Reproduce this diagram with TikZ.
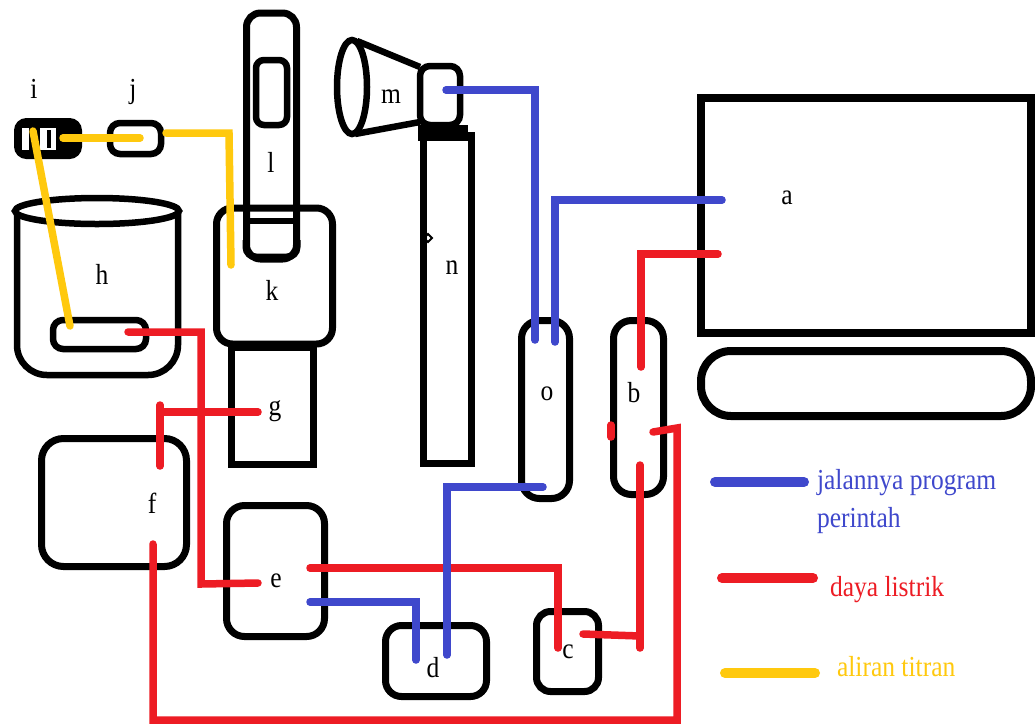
\documentclass[tikz,border=0pt]{standalone}
\usepackage{fontspec}
\setmainfont{Liberation Serif}[FakeStretch=0.88]
\definecolor{progblue}{RGB}{63,72,204}
\definecolor{powerred}{RGB}{237,28,36}
\definecolor{flowgold}{RGB}{255,201,14}
\begin{document}
\begin{tikzpicture}[x=1pt,y=-1pt,
  every node/.style={inner sep=0pt,outer sep=0pt},
  lbl/.style={font=\fontsize{29pt}{36pt}\selectfont,anchor=base},
  part/.style={draw=black,line width=6.5pt,rectangle,fill=none},
  prog/.style={draw=progblue,line width=7.5pt,line cap=round},
  power/.style={draw=powerred,line width=7.5pt,line cap=round},
  flow/.style={draw=flowgold,line width=7.5pt,line cap=round},
  legendline/.style={line width=10pt,line cap=round}]
\useasboundingbox (0,0) rectangle (1035,724);
\fill[white] (0,0) rectangle (1035,724);

% ---- computer: monitor and keyboard ----
\node[part,line width=8pt,minimum width=330pt,minimum height=235pt] (mon) at (866,215.5) {};
\draw[line width=8pt,rounded corners=30pt] (701,351) rectangle (1031,416);
\node[lbl] (la) at (787,204) {a};

% ---- beaker h with stirrer ----
\draw[line width=6.5pt,rounded corners=30pt] (17,213) -- (17,375) -- (178,375) -- (178,213);
\draw[line width=6.5pt,fill=white] (97,211) ellipse [x radius=82pt,y radius=13pt];
\node[part,rounded corners=10pt,minimum width=93pt,minimum height=29pt] (stir) at (99.5,334.5) {};
\node[lbl] (lh) at (102,284) {h};

% ---- pump i and valve j ----
\node[draw=black,fill=black,line width=5pt,rounded corners=10pt,minimum width=63pt,minimum height=36pt] (pump) at (48,138.5) {};
\fill[white] (22,128) rectangle (56,150);
\fill[black] (29,128) rectangle (40,150);
\fill[black] (47,130) rectangle (51,148);
\node[part,rounded corners=10pt,minimum width=51pt,minimum height=31pt] (valve) at (135.5,138.5) {};
\node[lbl] (li) at (34,98) {i};
\node[lbl] (lj) at (133,98) {j};

% ---- electrode l in vessel k, stand g ----
\node[part,fill=white,line width=7pt,rounded corners=14pt,minimum width=50pt,minimum height=246pt] (elec) at (271.5,136) {};
\node[part,rounded corners=8pt,minimum width=31pt,minimum height=65pt] (win) at (271.5,92.5) {};
\node[part,line width=7pt,rounded corners=16pt,minimum width=116pt,minimum height=136pt] (vessel) at (274.5,276) {};
\draw[line width=6pt] (243,221) -- (300,221);
\draw[line width=7pt,rounded corners=10pt] (246,240) -- (246,257) -- (297,257) -- (297,240);
\node[part,line width=7pt,minimum width=82pt,minimum height=119pt] (stand) at (272.5,405) {};
\draw[line width=9pt] (229,346) -- (316,346);
\node[lbl] (ll) at (271,172) {l};
\node[lbl] (lk) at (272,300) {k};
\node[lbl] (lg) at (275,415) {g};

% ---- sensor m on column n ----
\draw[line width=6.5pt] (352,87) ellipse [x radius=15pt,y radius=47pt];
\draw[line width=6.5pt] (357,41) -- (420,67);
\draw[line width=6.5pt] (355,134) -- (420,122);
\node[part,rounded corners=10pt,minimum width=40pt,minimum height=59pt] (sens) at (440,95.5) {};
\node[part,line width=7pt,minimum width=48pt,minimum height=328pt] (col) at (447.5,299.5) {};
\fill[black] (418,125) rectangle (468,141);
\draw[line width=2pt] (424,238) -- (428,234) -- (432,238) -- (428,242) -- cycle;
\node[lbl] (lm) at (391,103) {m};
\node[lbl] (ln) at (452,274) {n};

% ---- control units ----
\node[part,line width=7pt,rounded corners=18pt,minimum width=48pt,minimum height=178pt] (uo) at (545.5,409.5) {};
\node[part,line width=7pt,rounded corners=18pt,minimum width=50pt,minimum height=174pt] (ub) at (638.5,407.5) {};
\node[part,line width=7pt,rounded corners=14pt,minimum width=62pt,minimum height=80pt] (uc) at (567.5,651.5) {};
\node[part,line width=7pt,rounded corners=16pt,minimum width=101pt,minimum height=71pt] (ud) at (436,661) {};
\node[part,line width=7pt,rounded corners=18pt,minimum width=98pt,minimum height=131pt] (ue) at (275.5,571) {};
\node[part,line width=7pt,rounded corners=22pt,minimum width=145pt,minimum height=128pt] (uf) at (114,502.5) {};
\node[lbl] (lo) at (547,400) {o};
\node[lbl] (lb) at (634,402) {b};
\node[lbl] (lc) at (568,658) {c};
\node[lbl] (ld) at (433,677) {d};
\node[lbl] (le) at (276,587) {e};
\node[lbl] (lf) at (152,513) {f};

% ---- wire end points ----
\coordinate (yI) at (33,131);   \coordinate (yH) at (70,326);
\coordinate (yIout) at (63,138); \coordinate (yJin) at (140,138);
\coordinate (yJout) at (166,133); \coordinate (yK) at (231,265);
\coordinate (rH) at (128,332);  \coordinate (rE1) at (258,583);
\coordinate (rG) at (258,412);  \coordinate (rF1) at (160,466);
\coordinate (rF2) at (153,544); \coordinate (rB1) at (653,432);
\coordinate (rBtick) at (611,425);
\coordinate (rE2) at (310,568); \coordinate (rC1) at (558,648);
\coordinate (rC2) at (583,634); \coordinate (rB2) at (640,465);
\coordinate (rA) at (718,254);  \coordinate (rB3) at (641,367);
\coordinate (bM) at (446,90);   \coordinate (bO1) at (535,340);
\coordinate (bA) at (722,200);  \coordinate (bO2) at (555,342);
\coordinate (bO3) at (543,487); \coordinate (bD1) at (447,655);
\coordinate (bE) at (310,602);  \coordinate (bD2) at (416,660);

% ---- titrant flow ----
\draw[flow] (yI) -- (yH);
\draw[flow] (yIout) -- (yJin);
\draw[flow] (yJout) -- (229,133) -- (yK);

% ---- power lines ----
\draw[power] (rH) -| (201,584) -- (rE1);
\draw[power] (rG) -- (160,412);
\draw[power] (160,405) -- (rF1);
\draw[power] (rF2) -- (153,720) -- (677,720) -- (677,428) -- (rB1);
\draw[power] (rBtick) -- (611,437);
\draw[power] (rE2) -| (rC1);
\draw[power] (rC2) -- (640,636);
\draw[power] (640,648) -- (rB2);
\draw[power] (rA) -| (rB3);

% ---- program signal lines ----
\draw[prog] (bM) -| (bO1);
\draw[prog] (bA) -| (bO2);
\draw[prog] (bO3) -| (bD1);
\draw[prog] (bE) -| (bD2);

% ---- legend ----
\coordinate (kp1) at (715,482); \coordinate (kp2) at (804,482);
\coordinate (kr1) at (722,578); \coordinate (kr2) at (813,578);
\coordinate (ky1) at (725,673); \coordinate (ky2) at (815,673);
\draw[legendline,progblue] (kp1) -- (kp2);
\draw[legendline,powerred] (kr1) -- (kr2);
\draw[legendline,flowgold] (ky1) -- (ky2);
\node[lbl,anchor=base west,text=progblue] (tp1) at (817,489) {jalannya program};
\node[lbl,anchor=base west,text=progblue] (tp2) at (817,527) {perintah};
\node[lbl,anchor=base west,text=powerred] (tr) at (830,596) {daya listrik};
\node[lbl,anchor=base west,text=flowgold] (ty) at (837,676) {aliran titran};
\end{tikzpicture}
\end{document}
